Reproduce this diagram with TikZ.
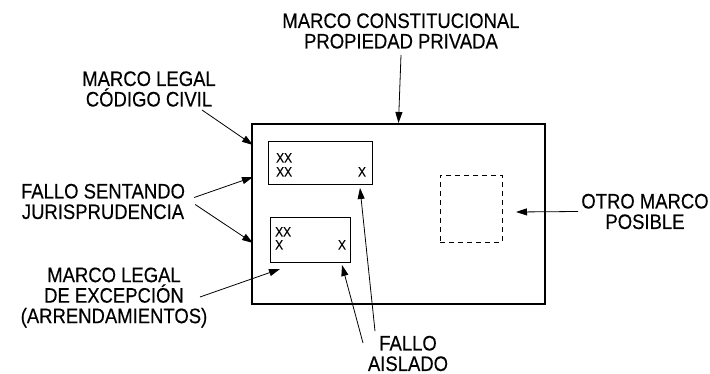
\documentclass[tikz,border=0pt]{standalone}
\usepackage{fontspec}
\setmainfont{Liberation Sans}
\newfontfamily\labelfont[FakeStretch=0.88, FakeBold=0.3]{Liberation Sans}
\usetikzlibrary{arrows.meta}
\tikzset{
    label text/.style = {align=center, inner sep=0pt, font=\labelfont\fontsize{21}{20.5}\selectfont},
    mark text/.style = {anchor=base west, inner sep=0pt, font=\labelfont\fontsize{13.5}{14}\selectfont},
    pointer/.style = {draw, line width=0.8pt, -{Triangle[length=11pt, width=7pt]}},
}
\tikzset{
    frame box/.style = {draw, line width=2pt, inner sep=0pt},
    case box/.style = {draw, line width=1pt, inner sep=0pt},
    other box/.style = {draw, line width=0.9pt, inner sep=0pt, dash pattern=on 5pt off 4pt},
}

\begin{document}
\begin{tikzpicture}[x=1pt, y=-1pt]
            \useasboundingbox (0,0) rectangle (710,374);

            % frames
            \node[frame box, minimum width=293pt, minimum height=180pt] (constitucional) at (398.5,214) {};
            \node[case box, minimum width=104pt, minimum height=43pt] (codigo) at (320,163.5) {};
            \node[case box, minimum width=80pt, minimum height=45pt] (excepcion) at (310,240.5) {};
            \node[other box, minimum width=62pt, minimum height=67pt] (posible) at (471,208.5) {};

            % fallos
            \node[mark text] (xx1) at (276,162.5) {XX};
            \node[mark text] (xx2) at (276,176.5) {XX};
            \node[mark text, anchor=base] (x1) at (362,176.5) {X};
            \node[mark text] (xx3) at (275,236.5) {XX};
            \node[mark text] (x2) at (275,249.5) {X};
            \node[mark text, anchor=base] (x3) at (342,249.5) {X};

            % labels
            \node[label text] (t constitucional) at (401,31) {MARCO CONSTITUCIONAL\\PROPIEDAD PRIVADA};
            \node[label text] (t codigo) at (149,89) {MARCO LEGAL\\CÓDIGO CIVIL};
            \node[label text] (t sentando) at (103,201.5) {FALLO SENTANDO\\JURISPRUDENCIA};
            \node[label text] (t excepcion) at (114,297.5) {MARCO LEGAL\\DE EXCEPCIÓN\\(ARRENDAMIENTOS)};
            \node[label text] (t aislado) at (408,353.5) {FALLO\\AISLADO};
            \node[label text] (t posible) at (645,211.5) {OTRO MARCO\\POSIBLE};

            \coordinate (codigo tip) at (253,145);
            \coordinate (sentando tip1) at (253,177);
            \coordinate (sentando tip2) at (253,243);
            \coordinate (excepcion tip) at (280,269);
            \coordinate (aislado tip1) at (360,188);
            \coordinate (aislado tip2) at (342,265);
            \coordinate (posible tip) at (516,212);

            \draw[pointer] (401,55) -- (constitucional.north);
            \draw[pointer] (202,110) -- (codigo tip);
            \draw[pointer] ([xshift=9pt, yshift=4pt]t sentando.east) -- (sentando tip1);
            \draw[pointer] ([xshift=10pt, yshift=-3pt]t sentando.east) -- (sentando tip2);
            \draw[pointer] (200,297) -- (excepcion tip);
            \draw[pointer] (375,331) -- (aislado tip1);
            \draw[pointer] (363,343) -- (aislado tip2);
            \draw[pointer] ([xshift=-3pt]t posible.west) -- (posible tip);
        \end{tikzpicture}
\end{document}
